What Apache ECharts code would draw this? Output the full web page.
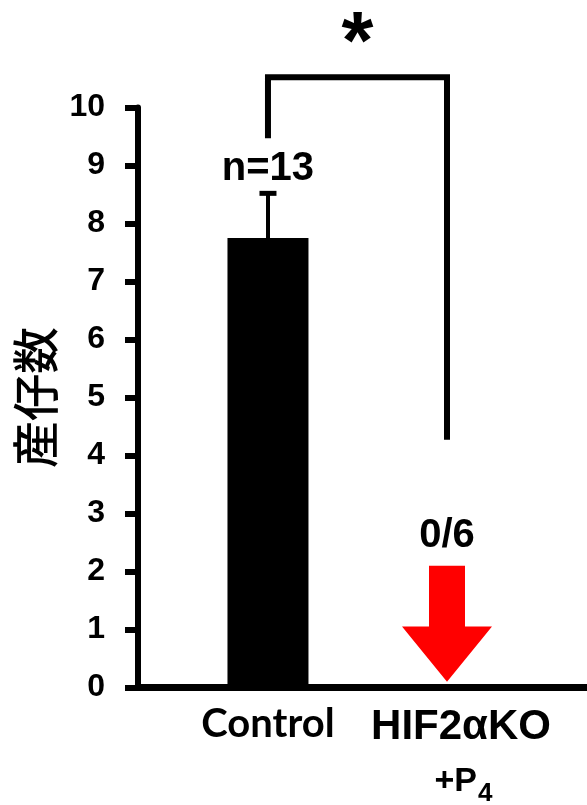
<!DOCTYPE html>
<html>
<head>
<meta charset="utf-8">
<script src="https://cdn.jsdelivr.net/npm/echarts@6/dist/echarts.min.js"></script>
<style>
  html, body { margin: 0; padding: 0; background: #ffffff; }
  #chart { width: 587px; height: 805px; }
</style>
</head>
<body>
<div id="chart"></div>
<script>
// Groups and their positions along the horizontal value axis
const groups = ['Control', 'HIF2αKO'];
const groupPos = [1, 2];
// Mean number of pups per group and its error
const meanValues = [7.75, 0];
const errorValues = [0.77, 0];
// Sample-size labels above each group
const countLabels = ['n=13', '0/6'];
// Y axis ticks
const yTicks = [0, 1, 2, 3, 4, 5, 6, 7, 8, 9, 10];
// Down arrow for the group with no pups: shaft top, head base, tip
const arrowLevels = [2.1, 1.05, 0.1];
// Significance bracket: top, left foot, right foot; star level
const bracketLevels = [10.52, 9.47, 4.27];
const starLevel = 11.78;
const starText = '*';

const X_MIN = 0.274, X_MAX = 2.782;
const ARIAL = '"Liberation Sans", Arial, sans-serif';

const chart = echarts.init(document.getElementById('chart'), null, { renderer: 'canvas' });

const barData = groupPos.map((x, i) => [x, meanValues[i]]).filter(d => d[1] > 0);
const errData = groupPos.map((x, i) => [x, meanValues[i], meanValues[i] + errorValues[i]]).filter(d => d[2] > d[1]);
const arrowData = groupPos.map((x, i) => [x, arrowLevels[0], arrowLevels[1], arrowLevels[2]]).filter((d, i) => meanValues[i] === 0);
const countData = groupPos.map((x, i) => [x, meanValues[i] > 0 ? meanValues[i] + errorValues[i] : arrowLevels[0], i]);
const groupLabelData = groupPos.map((x, i) => [x, 0, i]);

chart.setOption({
  animation: false,
  backgroundColor: '#ffffff',
  grid: { left: 138, right: 0, top: 107.5, bottom: 117.5, containLabel: false },
  xAxis: {
    type: 'value', min: X_MIN, max: X_MAX,
    axisLine: { show: true, onZero: false, lineStyle: { color: '#000', width: 7 } },
    axisTick: { show: false }, axisLabel: { show: false }, splitLine: { show: false }
  },
  yAxis: {
    type: 'value', min: yTicks[0], max: yTicks[yTicks.length - 1], interval: 1,
    name: '産仔数', nameLocation: 'middle', nameGap: 76, nameRotate: 90,
    nameTextStyle: { fontFamily: '"Noto Sans CJK JP", sans-serif', fontWeight: 500, fontSize: 47, color: '#000' },
    axisLine: { show: true, lineStyle: { color: '#000', width: 6 } },
    axisTick: { show: true, length: 13, lineStyle: { color: '#000', width: 6 } },
    axisLabel: { margin: 33, fontFamily: ARIAL, fontWeight: 'bold', fontSize: 32, color: '#000' },
    splitLine: { show: false }
  },
  series: [
    {
      type: 'bar', data: barData, barWidth: 81,
      itemStyle: { color: '#000' }, z: 2
    },
    {
      // error bar
      type: 'custom', data: errData, clip: false, z: 3,
      renderItem: (params, api) => {
        const p0 = api.coord([api.value(0), api.value(1)]);
        const p1 = api.coord([api.value(0), api.value(2)]);
        return { type: 'group', children: [
          { type: 'line', shape: { x1: p0[0], y1: p0[1], x2: p1[0], y2: p1[1] }, style: { stroke: '#000', lineWidth: 4 } },
          { type: 'line', shape: { x1: p1[0] - 8.5, y1: p1[1], x2: p1[0] + 8.5, y2: p1[1] }, style: { stroke: '#000', lineWidth: 5 } }
        ] };
      }
    },
    {
      // red down arrow
      type: 'custom', data: arrowData, clip: false, z: 3,
      renderItem: (params, api) => {
        const x = api.value(0);
        const top = api.coord([x, api.value(1)]);
        const neck = api.coord([x, api.value(2)]);
        const tip = api.coord([x, api.value(3)]);
        const cx = top[0];
        return { type: 'polygon', shape: { points: [
          [cx - 18, top[1]], [cx + 18, top[1]], [cx + 18, neck[1]], [cx + 45, neck[1]],
          [cx, tip[1]], [cx - 45, neck[1]], [cx - 18, neck[1]]
        ] }, style: { fill: '#ff0000' } };
      }
    },
    {
      // sample-size labels
      type: 'custom', data: countData, clip: false, z: 4,
      renderItem: (params, api) => {
        const p = api.coord([api.value(0), api.value(1)]);
        const i = api.value(2);
        return { type: 'text', x: p[0], y: p[1] - (i === 0 ? 24 : 30), style: {
          text: countLabels[i], font: 'bold 40px ' + ARIAL, fill: '#000',
          textAlign: 'center', textVerticalAlign: 'middle'
        } };
      }
    },
    {
      // significance bracket and star
      type: 'custom', data: [[groupPos[0], groupPos[1]]], clip: false, z: 4,
      renderItem: (params, api) => {
        const x1 = api.value(0), x2 = api.value(1);
        const a = api.coord([x1, bracketLevels[1]]);
        const b = api.coord([x1, bracketLevels[0]]);
        const c = api.coord([x2, bracketLevels[0]]);
        const d = api.coord([x2, bracketLevels[2]]);
        const s = api.coord([(x1 + x2) / 2, starLevel]);
        return { type: 'group', children: [
          { type: 'polyline', shape: { points: [a, b, c, d] }, style: { stroke: '#000', lineWidth: 6, fill: null, lineJoin: 'miter' } },
          { type: 'text', x: s[0], y: s[1], style: { text: starText, font: 'bold 82px ' + ARIAL, fill: '#000', textAlign: 'center', textVerticalAlign: 'top' } }
        ] };
      }
    },
    {
      // group names under the axis
      type: 'custom', data: groupLabelData, clip: false, z: 4,
      renderItem: (params, api) => {
        const p = api.coord([api.value(0), api.value(1)]);
        const i = api.value(2);
        if (i === 0) {
          return { type: 'text', x: p[0], y: p[1] + 37, style: {
            text: groups[0], font: 'bold 40px Lato, sans-serif', fill: '#000',
            textAlign: 'center', textVerticalAlign: 'middle' } };
        }
        const cx = p[0] + 14;
        return { type: 'group', children: [
          { type: 'text', x: cx, y: p[1] + 40, style: { text: groups[1], font: 'bold 42px ' + ARIAL, fill: '#000', textAlign: 'center', textVerticalAlign: 'middle' } },
          { type: 'text', x: cx + 16, y: p[1] + 111.5, style: { text: '+P', font: 'bold 34px ' + ARIAL, fill: '#000', textAlign: 'right', textVerticalAlign: 'bottom' } },
          { type: 'text', x: cx + 17, y: p[1] + 119.5, style: { text: '4', font: 'bold 26px ' + ARIAL, fill: '#000', textAlign: 'left', textVerticalAlign: 'bottom' } }
        ] };
      }
    }
  ]
});
</script>
</body>
</html>
